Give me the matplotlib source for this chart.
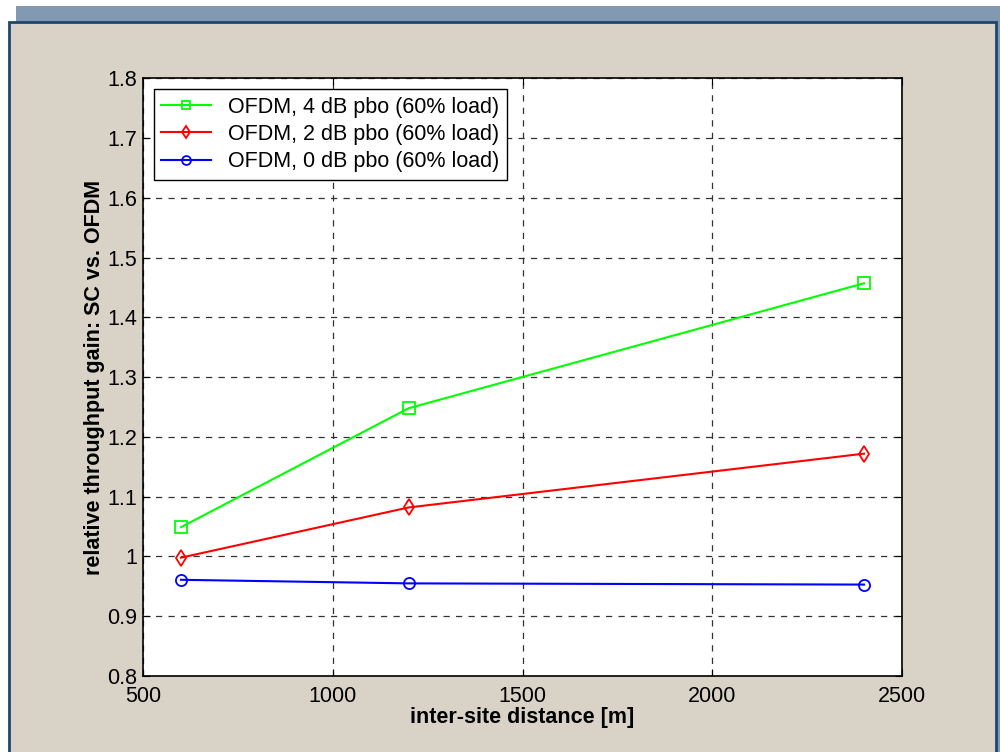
import numpy as np
import matplotlib.pyplot as plt
from matplotlib.patches import Rectangle

plt.rcParams['font.family'] = ['Liberation Sans', 'DejaVu Sans']

distance = [600, 1200, 2400]
gain_4db = [1.049, 1.248, 1.457]
gain_2db = [0.998, 1.082, 1.172]
gain_0db = [0.961, 0.955, 0.953]

labels = ['OFDM, 4 dB pbo (60% load)', 'OFDM, 2 dB pbo (60% load)', 'OFDM, 0 dB pbo (60% load)']

fig = plt.figure(figsize=(10, 7.52), dpi=100)
fig.patch.set_facecolor('white')

# blue textured band at top and the beige panel
fig.patches.append(Rectangle((0.016, 0), 0.984, 1 - 6/752, transform=fig.transFigure,
                             facecolor='#8199b1', edgecolor='none', zorder=0))
fig.patches.append(Rectangle((0.009, -0.01), 0.987, 1 - 22/752 + 0.01, transform=fig.transFigure,
                             facecolor='#d9d2c6', edgecolor='#1c4670', linewidth=2, zorder=1))

ax = fig.add_axes([0.143, 0.101, 0.759, 0.795])
ax.set_zorder(2)
ax.set_facecolor('white')

ax.plot(distance, gain_4db, '-s', color='#00ff00', mfc='none', mew=1.3, ms=8, lw=1.5, label=labels[0])
ax.plot(distance, gain_2db, '-d', color='#ff0000', mfc='none', mew=1.3, ms=8, lw=1.5, label=labels[1])
ax.plot(distance, gain_0db, '-o', color='#0000ff', mfc='none', mew=1.3, ms=8, lw=1.5, label=labels[2])

ax.set_xlim(500, 2500)
ax.set_ylim(0.8, 1.8)
ax.set_xticks([500, 1000, 1500, 2000, 2500])
ax.set_yticks(np.arange(0.8, 1.81, 0.1))
ax.set_yticklabels(['0.8', '0.9', '1', '1.1', '1.2', '1.3', '1.4', '1.5', '1.6', '1.7', '1.8'])
ax.grid(True, color='#333333', linestyle=(0, (5, 5)), linewidth=0.9)
ax.tick_params(direction='in', labelsize=15.5, top=True, right=True, length=5)
ax.tick_params(axis='x', pad=7)
ax.tick_params(axis='y', pad=4)
for s in ax.spines.values():
    s.set_linewidth(1.2)

ax.set_xlabel('inter-site distance [m]', fontsize=15.5, fontweight='bold', labelpad=0)
ax.set_ylabel('relative throughput gain: SC vs. OFDM', fontsize=15.5, fontweight='bold', labelpad=2)

leg = ax.legend(loc='upper left', fontsize=15.5, fancybox=False, framealpha=1,
                edgecolor='black', borderaxespad=0.5, handlelength=2.3, labelspacing=0.3,
                borderpad=0.35, markerscale=0.8, handletextpad=0.8)
leg.get_frame().set_linewidth(1.0)

fig.savefig('out.png', dpi=100, facecolor=fig.get_facecolor())
